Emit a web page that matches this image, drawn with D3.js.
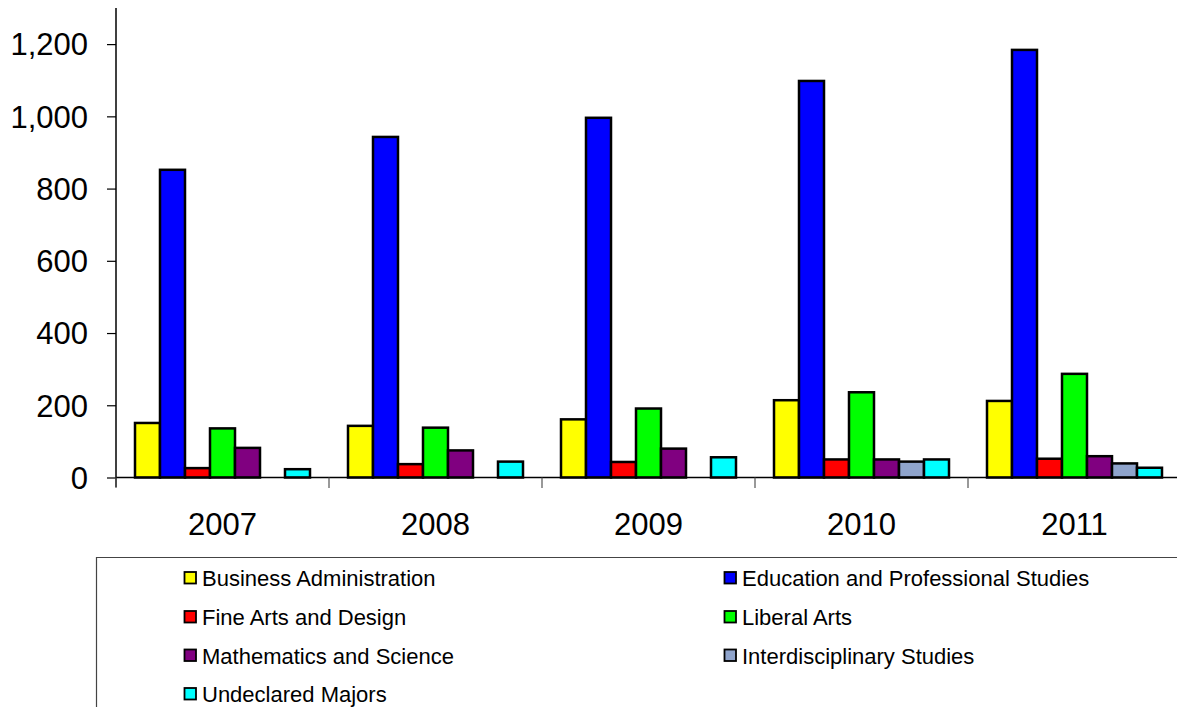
<!DOCTYPE html>
<html><head><meta charset="utf-8">
<script src="https://cdn.jsdelivr.net/npm/d3@7"></script>
<style>body{margin:0;background:#fff;}svg{display:block;font-family:"Liberation Sans",Arial,sans-serif;}</style>
</head><body>
<svg id="chart" width="1177" height="707"></svg>
<script>
const years = ["2007","2008","2009","2010","2011"];
const seriesNames = ["Business Administration","Education and Professional Studies","Fine Arts and Design","Liberal Arts","Mathematics and Science","Interdisciplinary Studies","Undeclared Majors"];
const seriesColors = ["#ffff00","#0000ff","#ff0000","#00ff00","#800080","#8fa4cc","#00ffff"];
const business = [151,143,161,214,212];
const education = [852,943,996,1098,1184];
const fineArts = [26,37,43,50,52];
const liberalArts = [136,138,191,236,287];
const mathScience = [82,75,80,50,59];
const interdisciplinary = [null,null,null,44,39];
const undeclared = [23,44,56,50,27];
const yTicks = [0,200,400,600,800,1000,1200];

const seriesValues = [business,education,fineArts,liberalArts,mathScience,interdisciplinary,undeclared];
const svg = d3.select("#chart");
const x0 = d3.scaleBand().domain(years).range([116,1181]).paddingInner(0).paddingOuter(0);
const x1 = d3.scaleBand().domain(d3.range(seriesNames.length)).range([19,194]);
const y = d3.scaleLinear().domain([0,1300]).range([477.5,8]);

// y axis
const yAxis = svg.append("g").attr("transform","translate(116,0)")
  .call(d3.axisLeft(y).tickValues(yTicks).tickFormat(d3.format(",")).tickSize(9).tickPadding(19));
yAxis.select(".domain").attr("d","M0,8V487").attr("stroke","#000").attr("stroke-width",1.5);
yAxis.selectAll(".tick line").attr("stroke","#000").attr("stroke-width",1.2);
yAxis.selectAll(".tick text").attr("font-size",31).attr("fill","#000").attr("dy","0.35em").attr("font-family","Liberation Sans, Arial, sans-serif");

// bars
years.forEach((yr,i)=>{
  const g = svg.append("g").attr("transform",`translate(${x0(yr)},0)`);
  seriesValues.forEach((vals,s)=>{
    const v = vals[i];
    if(v==null) return;
    g.append("rect")
      .attr("x",x1(s)).attr("width",x1.bandwidth())
      .attr("y",y(v)).attr("height",y(0)-y(v))
      .attr("fill",seriesColors[s]).attr("stroke","#000").attr("stroke-width",2.5);
  });
});

// x axis
const xAxis = svg.append("g").attr("transform","translate(0,477.5)")
  .call(d3.axisBottom(x0).tickSize(0).tickPadding(0));
xAxis.select(".domain").attr("d","M116,0H1177").attr("stroke","#000").attr("stroke-width",1.5);
xAxis.selectAll(".tick text").attr("font-size",31).attr("fill","#000").attr("dy",null).attr("y",57.5).attr("font-family","Liberation Sans, Arial, sans-serif");
// category separators
svg.append("g").selectAll("line").data(years.concat(["end"]))
  .join("line")
  .attr("x1",(d,i)=>116+i*x0.step()).attr("x2",(d,i)=>116+i*x0.step())
  .attr("y1",477.5).attr("y2",488).attr("stroke","#555").attr("stroke-width",1.2);

// legend
const leg = svg.append("g");
leg.append("path").attr("d","M96.5,707V557.5H1177").attr("fill","none").attr("stroke","#444").attr("stroke-width",1.2);
const colX = [184,724];
const rowY = [577.5,616.5,655,693.5];
seriesNames.forEach((n,i)=>{
  const cx = colX[i%2], cy = rowY[Math.floor(i/2)];
  leg.append("rect").attr("x",cx+0.5).attr("y",cy-5.5).attr("width",11.5).attr("height",11.5)
    .attr("fill",seriesColors[i]).attr("stroke","#000").attr("stroke-width",1.8);
  leg.append("text").attr("x",cx+18).attr("y",cy+8.5)
    .attr("font-size",22).attr("fill","#000").text(n);
});
</script>
</body></html>
